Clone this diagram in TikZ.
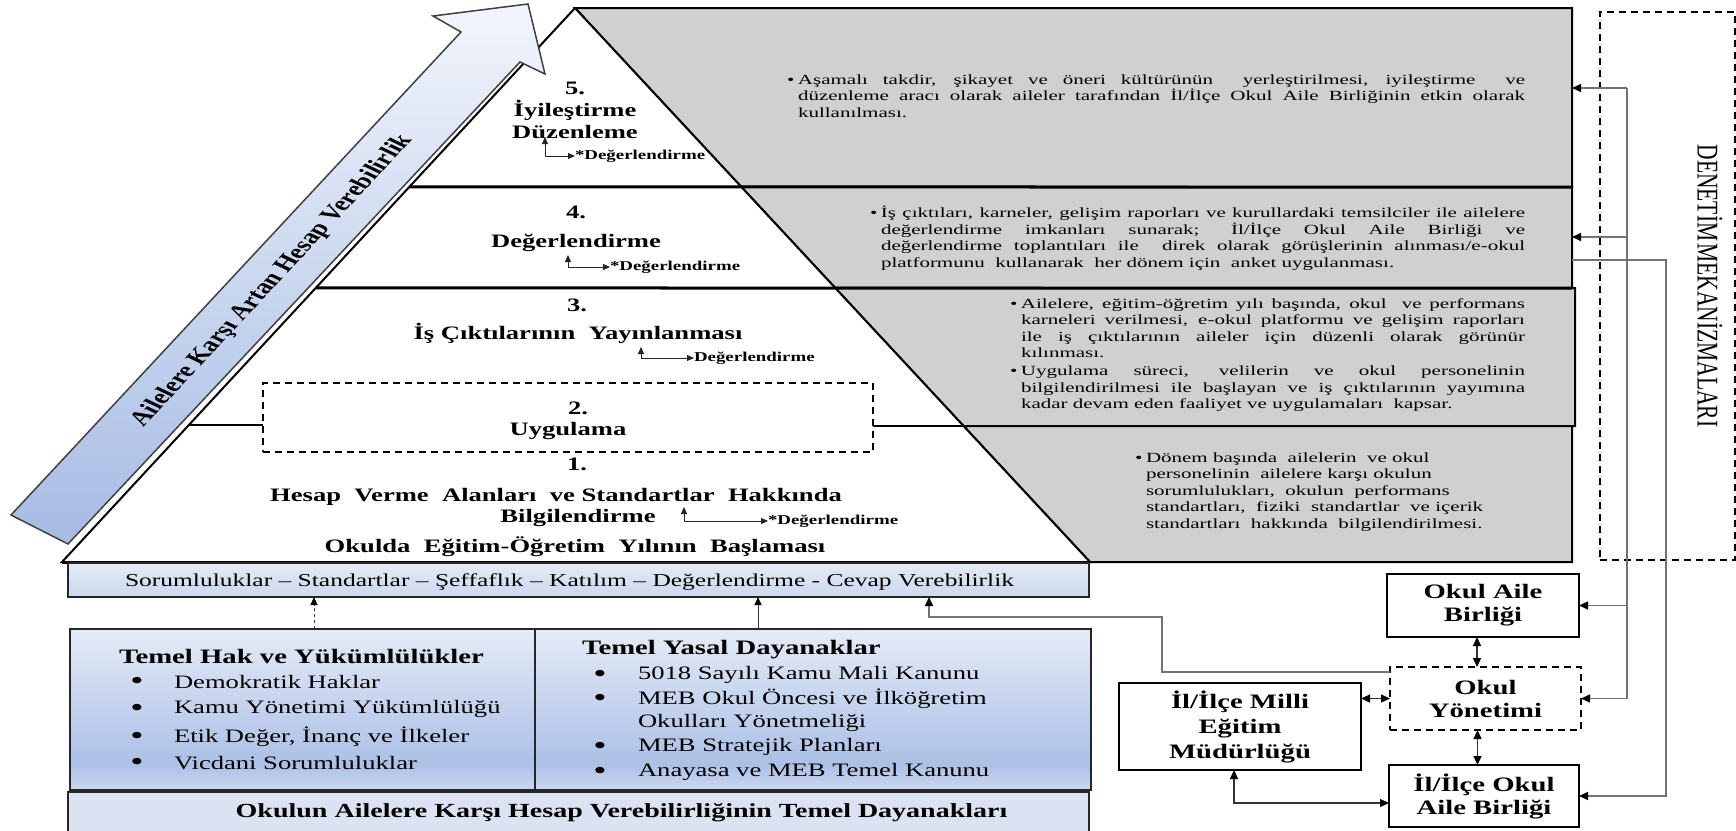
\documentclass[tikz,border=0pt]{standalone}
\usepackage{fontspec}
\setmainfont{Liberation Serif}[FakeStretch=1.4]
\newfontfamily\uprightserif{Liberation Serif}
\newfontfamily\wideserif{Liberation Serif}[FakeStretch=1.5]
\usetikzlibrary{arrows.meta,calc}

\definecolor{graybg}{RGB}{208,208,208}
\definecolor{linegray}{RGB}{115,115,115}
\definecolor{arrowtop}{RGB}{242,245,251}
\definecolor{arrowbot}{RGB}{166,187,228}
\definecolor{boxtop}{RGB}{229,235,247}
\definecolor{boxmid}{RGB}{172,192,230}
\definecolor{boxbot}{RGB}{205,216,240}
\definecolor{stripblue}{RGB}{219,227,243}
\definecolor{striptop}{RGB}{228,234,246}
\definecolor{stripbot}{RGB}{204,216,238}

% light at the top, deepest blue low down, a little lighter at the very bottom
\pgfdeclareverticalshading{basebox}{100bp}{color(0bp)=(boxbot); color(25bp)=(boxbot); color(33bp)=(boxmid); color(75bp)=(boxtop); color(100bp)=(boxtop)}

% justified lines of the grey bands: bullet line, full line, last line
\newlength\gw
\newcommand\setgw[1]{\global\gw=#1\relax}
\newcommand\bline[1]{\makebox[11pt][l]{•}\makebox[\dimexpr\gw-11pt\relax][s]{#1}}
\newcommand\jline[1]{\hspace*{11pt}\makebox[\dimexpr\gw-11pt\relax][s]{#1}}
\newcommand\lline[1]{\hspace*{11pt}#1}
\newcommand\bfirst[1]{\makebox[11pt][l]{•}#1}
\newcommand\boxbullet{•}

\begin{document}
\begin{tikzpicture}[x=1pt,y=-1pt,
  every node/.style={inner sep=0pt,outer sep=0pt},
  tierhead/.style={font=\bfseries\fontsize{19}{22}\selectfont,align=center},
  evaltext/.style={anchor=west,font=\bfseries\fontsize{13.5}{15}\selectfont},
  evalarrow/.style={line width=0.9pt,draw=black!85,{Triangle[length=7pt,width=6pt]}-{Triangle[length=7pt,width=6pt]}},
  graytext/.style={font=\wideserif\fontsize{14}{16.5}\selectfont,align=left},
  grayrow/.style={fill=graybg,draw=black,line width=2pt},
  orgbox/.style={draw=black,line width=2.2pt,fill=white,align=center,font=\bfseries\fontsize{20.5}{23}\selectfont},
  link/.style={draw=black!80,line width=1.2pt,{Triangle[length=9pt,width=8pt,color=black]}-{Triangle[length=9pt,width=8pt,color=black]}},
  feed/.style={draw=linegray,line width=1.5pt},
  feedtip/.style={feed,-{Triangle[length=9pt,width=8pt,color=black]}},
  uparrow/.style={draw=black!80,line width=1pt,-{Triangle[length=8pt,width=7pt,color=black]}},
  boxtext/.style={anchor=west,font=\fontsize{19}{19}\selectfont},
  boxhead/.style={font=\bfseries\fontsize{20.5}{20.5}\selectfont},
  bul/.style={font=\fontsize{27}{27}\selectfont},
]
\useasboundingbox (0,0) rectangle (1736,830);
\fill[white] (0,0) rectangle (1736,830);

% ---------- pyramid geometry ----------
\coordinate (apex) at (575,8);
\coordinate (bl) at (62,562);
\coordinate (br) at (1090,562);
\coordinate (l1) at ($(apex)!{179/554}!(bl)$);
\coordinate (r1) at ($(apex)!{179/554}!(br)$);
\coordinate (l2) at ($(apex)!{280/554}!(bl)$);
\coordinate (r2) at ($(apex)!{280/554}!(br)$);
\coordinate (l3) at ($(apex)!{417/554}!(bl)$);
\coordinate (r3) at ($(apex)!{418/554}!(br)$);

% grey explanation bands
\draw[grayrow] (apex) -- (1572,8) -- (1572,187) -- (r1) -- cycle;
\draw[grayrow] (r1) -- (1572,187) -- (1572,288) -- (r2) -- cycle;
\draw[grayrow] (r2) -- (1575,288) -- (1575,426) -- (r3) -- cycle;
\draw[grayrow] (r3) -- (1572,426) -- (1572,562) -- (br) -- cycle;

% pyramid
\draw[fill=white,line width=2pt] (apex) -- (bl) -- (br) -- cycle;
\draw[line width=3pt] (l1) -- (1572,187);
\draw[line width=3pt] (l2) -- (1572,288);
\draw[line width=3pt] (bl) -- (br);

% level 2 (dashed)
\node[draw,dash pattern=on 7pt off 5pt,line width=1.6pt,fill=white,minimum width=610pt,minimum height=69pt] (u2) at (568,417.5) {};
\draw[line width=1.6pt] (l3) -- (l3 -| u2.west);
\draw[line width=1.6pt] (u2.east |- r3) -- (1572,426);

% level titles
\node[tierhead] (t5) at (575,110) {5.\\İyileştirme\\Düzenleme};
\node[tierhead] (t4n) at (576,212) {4.};
\node[tierhead] (t4) at (576,243) {Değerlendirme};
\node[tierhead] (t3n) at (577,305) {3.};
\node[tierhead] (t3) at (578,333) {İş Çıktılarının\ \ Yayınlanması};
\node[tierhead] (t2n) at (578,408) {2.};
\node[tierhead] (t2) at (568,431) {Uygulama};
\node[tierhead] (t1n) at (577,464) {1.};
\node[tierhead] (t1a) at (556,497) {Hesap\ \ Verme\ \ Alanları\ \ ve Standartlar\ \ Hakkında};
\node[tierhead] (t1b) at (578,518) {Bilgilendirme};
\node[tierhead] (t1c) at (575,547) {Okulda\ \ Eğitim-Öğretim\ \ Yılının\ \ Başlaması};

% evaluation feedback marks
\node[evaltext] (e5) at (575,156) {*Değerlendirme};
\coordinate (e5s) at (545,137);
\draw[evalarrow] (e5s) |- (e5.west);
\node[evaltext] (e4) at (610,267) {*Değerlendirme};
\coordinate (e4s) at (568,255);
\draw[evalarrow] (e4s) |- (e4.west);
\node[evaltext] (e3) at (694,358) {Değerlendirme};
\coordinate (e3s) at (641,347);
\draw[evalarrow] (e3s) |- (e3.west);
\node[evaltext] (e1) at (768,521) {*Değerlendirme};
\coordinate (e1s) at (684,507);
\draw[evalarrow] (e1s) |- (e1.west);

% grey band texts
\node[graytext,anchor=west] (g1) at (787,96) {\setgw{738pt}%
\bline{Aşamalı takdir, şikayet ve öneri kültürünün\ \ yerleştirilmesi, iyileştirme\ \ ve}\\
\jline{düzenleme aracı olarak aileler tarafından İl/İlçe Okul Aile Birliğinin etkin olarak}\\
\lline{kullanılması.}};
\node[graytext,anchor=west] (g2) at (870,238) {\setgw{655pt}%
\bline{İş çıktıları, karneler, gelişim raporları ve kurullardaki temsilciler ile ailelere}\\
\jline{değerlendirme imkanları sunarak; İl/İlçe Okul Aile Birliği ve}\\
\jline{değerlendirme toplantıları ile\ \ direk olarak görüşlerinin alınması/e-okul}\\
\lline{platformunu\ \ kullanarak\ \ her dönem için\ \ anket uygulanması.}};
\node[graytext,anchor=west] (g3) at (1010,355) {\setgw{515pt}%
\bline{Ailelere, eğitim-öğretim yılı başında, okul\ \ ve performans}\\
\jline{karneleri verilmesi, e-okul platformu ve gelişim raporları}\\
\jline{ile iş çıktılarının aileler için düzenli olarak görünür}\\
\lline{kılınması.}\\[1.5pt]
\bline{Uygulama süreci, velilerin ve okul personelinin}\\
\jline{bilgilendirilmesi ile başlayan ve iş çıktılarının yayımına}\\
\lline{kadar devam eden faaliyet ve uygulamaları\ \ kapsar.}};
\node[graytext,anchor=west] (g4) at (1135,492) {\bfirst{Dönem başında\ \ ailelerin\ \ ve okul}\\
\lline{personelinin\ \ ailelere karşı okulun}\\
\lline{sorumlulukları,\ \ okulun\ \ performans}\\
\lline{standartları,\ \ fiziki\ \ standartlar\ \ ve içerik}\\
\lline{standartları\ \ hakkında\ \ bilgilendirilmesi.}};

% rising accountability arrow
\draw[top color=arrowtop,bottom color=arrowbot,draw=black!75,line width=1.5pt,line join=miter]
  (11,515) -- (461,32) -- (433,16) -- (528,4) -- (545,74) -- (520,62) -- (68,544) -- cycle;
\begin{scope}[shift={(272,281)},xscale=1.4]
  \node[rotate=56.3,transform shape,font=\uprightserif\bfseries\fontsize{20.6}{20.6}\selectfont] (arrowlabel) {Ailelere Karşı Artan Hesap Verebilirlik};
\end{scope}

% ---------- supervision frame ----------
\node[draw,dash pattern=on 7pt off 5pt,line width=2pt,minimum width=135pt,minimum height=548pt] (den) at (1667.5,286) {};
\begin{scope}[shift={(1710,286)},xscale=1.4]
  \node[rotate=-90,transform shape,font=\uprightserif\fontsize{21.5}{21.5}\selectfont] (denlabel) {DENETİM\hspace{0.1em}MEKANİZMALARI};
\end{scope}

% ---------- principles strip and foundations ----------
\node[draw=black!85,line width=2pt,top color=striptop,bottom color=stripbot,minimum width=1021pt,minimum height=34pt] (sor) at (578.5,580) {};
\node[font=\fontsize{18.2}{18}\selectfont] (sortext) at (569.5,582) {Sorumluluklar – Standartlar – Şeffaflık – Katılım – Değerlendirme - Cevap Verebilirlik};

\node[draw=black!85,line width=2.4pt,shade,shading=basebox,minimum width=465pt,minimum height=161pt] (hak) at (302.5,709.5) {};
\node[draw=black!85,line width=2.4pt,shade,shading=basebox,minimum width=556pt,minimum height=161pt] (yasal) at (813,709.5) {};
\node[draw=black!85,line width=2.4pt,fill=stripblue,minimum width=1021pt,minimum height=40pt] (dayanak) at (578.5,812) {};
\node[font=\bfseries\fontsize{20}{20}\selectfont] (dayanaktext) at (621.5,813) {Okulun Ailelere Karşı Hesap Verebilirliğinin Temel Dayanakları};

\node[boxhead] (hakhead) at (301.5,657) {Temel Hak ve Yükümlülükler};
\node[bul] (hb1) at (137,683) {\boxbullet};
\node[boxtext] (h1) at (174,682) {Demokratik Haklar};
\node[bul] (hb2) at (137,710) {\boxbullet};
\node[boxtext] (h2) at (174,709) {Kamu Yönetimi Yükümlülüğü};
\node[bul] (hb3) at (137,738) {\boxbullet};
\node[boxtext] (h3) at (174,737) {Etik Değer, İnanç ve İlkeler};
\node[bul] (hb4) at (137,764) {\boxbullet};
\node[boxtext] (h4) at (174,763) {Vicdani Sorumluluklar};

\node[boxhead,anchor=west] (yasalhead) at (582,650) {Temel Yasal Dayanaklar};
\node[bul] (yb1) at (600,676) {\boxbullet};
\node[boxtext] (y1) at (638,675) {5018 Sayılı Kamu Mali Kanunu};
\node[bul] (yb2) at (600,700) {\boxbullet};
\node[boxtext] (y2) at (638,699) {MEB Okul Öncesi ve İlköğretim};
\node[boxtext] (y2b) at (638,723) {Okulları Yönetmeliği};
\node[bul] (yb3) at (600,748) {\boxbullet};
\node[boxtext] (y3) at (638,747) {MEB Stratejik Planları};
\node[bul] (yb4) at (600,773) {\boxbullet};
\node[boxtext] (y4) at (638,772) {Anayasa ve MEB Temel Kanunu};

\coordinate (hx) at (314,600);
\coordinate (yx) at (758,600);
\draw[uparrow,dashed] (hak.north -| hx) -- (sor.south -| hx);
\draw[uparrow] (yasal.north -| yx) -- (sor.south -| yx);

% ---------- school organisation ----------
\node[orgbox,minimum width=192pt,minimum height=63pt] (oab) at (1483,605.5) {Okul Aile\\Birliği};
\node[orgbox,dash pattern=on 7pt off 5pt,minimum width=191pt,minimum height=63pt] (oy) at (1485.5,698.5) {Okul\\Yönetimi};
\node[orgbox,font=\bfseries\fontsize{20.5}{25}\selectfont,minimum width=242pt,minimum height=87pt] (meb) at (1240,726.5) {İl/İlçe Milli\\Eğitim\\Müdürlüğü};
\node[orgbox,minimum width=190pt,minimum height=62pt] (ioab) at (1484,796) {İl/İlçe Okul\\Aile Birliği};

\draw[link] ($(oab.south)+(-6,0)$) -- ($(oab.south |- oy.north)+(-6,0)$);
\draw[link] ($(oy.south)+(-8,0)$) -- ($(oy.south |- ioab.north)+(-8,0)$);
\draw[link] (meb.east |- oy.west) -- (oy.west);
\draw[link] (meb.south -| 1234,0) |- ($(ioab.west)+(0,7)$);

% school management feeds the principles strip
\coordinate (c1) at (1162,617);
\coordinate (c2) at (929,617);
\draw[feedtip] ($(oy.north west)+(0,5)$) -| (c1) -- (c2) -- (c2 |- sor.south);

% supervision feedback lines
\coordinate (a1) at (1627,88);
\coordinate (a2) at (1627,237);
\coordinate (g1r) at (1572,88);
\coordinate (g2r) at (1572,237);
\coordinate (g2b) at (1572,260);
\coordinate (b1) at (1666,260);
\draw[feed] (a1) -- (a1 |- oy.east);
\draw[feedtip] (a1) -- (g1r);
\draw[feedtip] (a2) -- (g2r);
\draw[feedtip] (a1 |- oab.east) -- (oab.east);
\draw[feedtip] (a1 |- oy.east) -- (oy.east);
\draw[feedtip] (g2b) -- (b1) |- (ioab.east);
\end{tikzpicture}
\end{document}
